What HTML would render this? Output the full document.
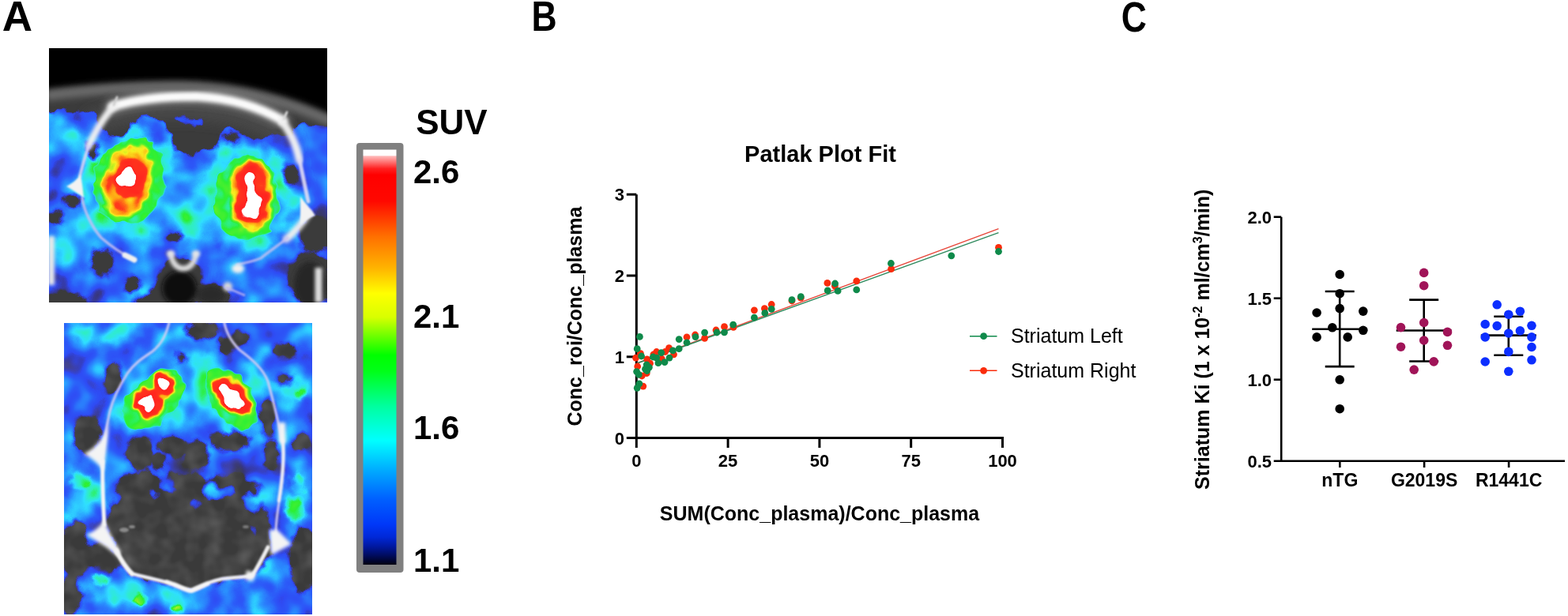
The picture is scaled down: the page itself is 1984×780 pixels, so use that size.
<!DOCTYPE html>
<html><head><meta charset="utf-8"><title>Figure</title>
<style>
html,body{margin:0;padding:0;background:#fff;width:1984px;height:780px;overflow:hidden}
svg{display:block}
text{font-family:"Liberation Sans", Arial, sans-serif}
</style></head><body>
<svg width="1984" height="780" viewBox="0 0 1984 780">
<defs>
<linearGradient id="cbg" x1="0" y1="0" x2="0" y2="1"><stop offset="0.0000" stop-color="#ffffff"/><stop offset="0.0133" stop-color="#ffffff"/><stop offset="0.0162" stop-color="#ffb8b8"/><stop offset="0.0305" stop-color="#ff7070"/><stop offset="0.0457" stop-color="#ff2020"/><stop offset="0.0610" stop-color="#ff0000"/><stop offset="0.1238" stop-color="#ff0800"/><stop offset="0.2095" stop-color="#ff7000"/><stop offset="0.2857" stop-color="#ffb400"/><stop offset="0.3467" stop-color="#ffff00"/><stop offset="0.4038" stop-color="#d8ff00"/><stop offset="0.4952" stop-color="#00ff00"/><stop offset="0.5333" stop-color="#00ff18"/><stop offset="0.6190" stop-color="#00ffa0"/><stop offset="0.7010" stop-color="#00ffff"/><stop offset="0.7752" stop-color="#00a8ff"/><stop offset="0.8419" stop-color="#0060ff"/><stop offset="0.9029" stop-color="#0038f8"/><stop offset="0.9333" stop-color="#0028d8"/><stop offset="0.9562" stop-color="#0018a0"/><stop offset="0.9771" stop-color="#000c60"/><stop offset="1.0000" stop-color="#000010"/></linearGradient>
</defs>
<rect width="1984" height="780" fill="#fff"/>

<svg x="62" y="61" width="352" height="322" viewBox="0 0 352 322" overflow="hidden">
<defs>
<filter id="Tb1" x="-20%" y="-20%" width="140%" height="140%"><feGaussianBlur stdDeviation="1.2"/></filter>
<filter id="Tb2" x="-20%" y="-20%" width="140%" height="140%"><feGaussianBlur stdDeviation="2.2"/></filter>
<filter id="Tb3" x="-20%" y="-20%" width="140%" height="140%"><feGaussianBlur stdDeviation="3.2"/></filter>
<filter id="Tb5" x="-30%" y="-30%" width="160%" height="160%"><feGaussianBlur stdDeviation="5"/></filter>
<filter id="Tb8" x="-40%" y="-40%" width="180%" height="180%"><feGaussianBlur stdDeviation="8"/></filter>
<filter id="Tb12" x="-50%" y="-50%" width="200%" height="200%"><feGaussianBlur stdDeviation="12"/></filter>
<filter id="Tctn" filterUnits="userSpaceOnUse" x="-20" y="-20" width="392" height="362" color-interpolation-filters="sRGB">
  <feTurbulence type="fractalNoise" baseFrequency="0.045" numOctaves="2" seed="20"/>
  <feColorMatrix type="matrix" values="0 0 0 0 1  0 0 0 0 1  0 0 0 0 1  0.3 0 0 0 -0.11"/>
</filter>
<filter id="Trough" x="-20%" y="-20%" width="140%" height="140%" color-interpolation-filters="sRGB">
  <feTurbulence type="fractalNoise" baseFrequency="0.07" numOctaves="2" seed="11" result="t"/>
  <feDisplacementMap in="SourceGraphic" in2="t" scale="13" xChannelSelector="R" yChannelSelector="G" result="d"/>
  <feGaussianBlur in="d" stdDeviation="1.6"/>
</filter>
<filter id="Tpet" filterUnits="userSpaceOnUse" x="-20" y="-20" width="392" height="362" color-interpolation-filters="sRGB">
  <feTurbulence type="fractalNoise" baseFrequency="0.03" numOctaves="2" seed="12" result="n"/>
  <feColorMatrix in="n" type="matrix" values="1 0 0 0 0  1 0 0 0 0  1 0 0 0 0  0 0 0 0 1" result="ng"/>
  <feGaussianBlur in="ng" stdDeviation="1.5" result="ngb"/>
  <feTurbulence type="fractalNoise" baseFrequency="0.08" numOctaves="2" seed="15" result="dn"/>
  <feDisplacementMap in="SourceGraphic" in2="dn" scale="11" xChannelSelector="R" yChannelSelector="G" result="src2"/>
  <feComposite in="src2" in2="ngb" operator="arithmetic" k1="0" k2="1" k3="0.4" k4="-0.200" result="f"/>
  <feComponentTransfer in="f" result="c">
    <feFuncR type="table" tableValues="0.165 0.166 0.167 0.169 0.170 0.171 0.173 0.174 0.175 0.176 0.178 0.179 0.180 0.182 0.183 0.184 0.186 0.187 0.188 0.190 0.191 0.192 0.193 0.195 0.196 0.197 0.199 0.200 0.201 0.203 0.204 0.201 0.198 0.195 0.191 0.188 0.185 0.182 0.179 0.176 0.173 0.172 0.171 0.170 0.169 0.168 0.167 0.166 0.165 0.168 0.171 0.175 0.178 0.182 0.185 0.188 0.188 0.188 0.188 0.188 0.188 0.188 0.185 0.182 0.179 0.176 0.173 0.217 0.261 0.306 0.350 0.395 0.439 0.546 0.653 0.759 0.866 0.973 0.979 0.986 0.993 1.000 1.000 1.000 1.000 1.000 1.000 1.000 1.000 1.000 1.000 1.000 1.000 1.000 1.000 1.000 1.000 1.000 1.000 1.000 1.000"/>
    <feFuncG type="table" tableValues="0.165 0.166 0.167 0.169 0.170 0.171 0.173 0.174 0.175 0.176 0.178 0.179 0.180 0.182 0.183 0.184 0.186 0.187 0.188 0.190 0.191 0.192 0.193 0.195 0.196 0.197 0.199 0.200 0.201 0.203 0.204 0.219 0.234 0.249 0.264 0.278 0.293 0.308 0.323 0.338 0.353 0.383 0.414 0.444 0.475 0.505 0.535 0.566 0.596 0.636 0.677 0.717 0.757 0.798 0.838 0.878 0.889 0.899 0.910 0.920 0.931 0.941 0.941 0.941 0.941 0.941 0.941 0.941 0.941 0.941 0.941 0.941 0.941 0.941 0.941 0.941 0.941 0.941 0.871 0.800 0.729 0.659 0.551 0.443 0.335 0.227 0.216 0.205 0.193 0.182 0.171 0.159 0.148 0.137 0.125 0.563 1.000 1.000 1.000 1.000 1.000"/>
    <feFuncB type="table" tableValues="0.847 0.850 0.853 0.856 0.859 0.861 0.864 0.867 0.870 0.873 0.876 0.879 0.882 0.884 0.887 0.890 0.893 0.896 0.899 0.902 0.905 0.907 0.910 0.913 0.916 0.919 0.922 0.925 0.928 0.930 0.933 0.937 0.941 0.945 0.949 0.953 0.957 0.961 0.965 0.969 0.973 0.976 0.979 0.983 0.986 0.990 0.993 0.997 1.000 1.000 1.000 1.000 1.000 1.000 1.000 1.000 0.954 0.907 0.861 0.814 0.768 0.722 0.618 0.515 0.411 0.307 0.204 0.196 0.188 0.180 0.173 0.165 0.157 0.151 0.144 0.138 0.132 0.125 0.114 0.102 0.090 0.078 0.086 0.094 0.102 0.110 0.112 0.113 0.115 0.117 0.119 0.120 0.122 0.124 0.125 0.563 1.000 1.000 1.000 1.000 1.000"/>
  </feComponentTransfer>
  <feColorMatrix in="f" type="matrix" values="0 0 0 0 0  0 0 0 0 0  0 0 0 0 0  10 0 0 0 -2.600" result="a"/>
  <feComposite in="c" in2="a" operator="in"/>
</filter>
<filter id="Tpet2" filterUnits="userSpaceOnUse" x="-20" y="-20" width="392" height="362" color-interpolation-filters="sRGB">
  <feTurbulence type="fractalNoise" baseFrequency="0.05" numOctaves="2" seed="16" result="n"/>
  <feColorMatrix in="n" type="matrix" values="1 0 0 0 0  1 0 0 0 0  1 0 0 0 0  0 0 0 0 1" result="ng"/>
  <feComposite in="SourceGraphic" in2="ng" operator="arithmetic" k1="0" k2="1" k3="0.14" k4="-0.07" result="f"/>
  <feComponentTransfer in="f" result="c">
    <feFuncR type="table" tableValues="0.165 0.166 0.167 0.169 0.170 0.171 0.173 0.174 0.175 0.176 0.178 0.179 0.180 0.182 0.183 0.184 0.186 0.187 0.188 0.190 0.191 0.192 0.193 0.195 0.196 0.197 0.199 0.200 0.201 0.203 0.204 0.201 0.198 0.195 0.191 0.188 0.185 0.182 0.179 0.176 0.173 0.172 0.171 0.170 0.169 0.168 0.167 0.166 0.165 0.168 0.171 0.175 0.178 0.182 0.185 0.188 0.188 0.188 0.188 0.188 0.188 0.188 0.185 0.182 0.179 0.176 0.173 0.217 0.261 0.306 0.350 0.395 0.439 0.546 0.653 0.759 0.866 0.973 0.979 0.986 0.993 1.000 1.000 1.000 1.000 1.000 1.000 1.000 1.000 1.000 1.000 1.000 1.000 1.000 1.000 1.000 1.000 1.000 1.000 1.000 1.000"/>
    <feFuncG type="table" tableValues="0.165 0.166 0.167 0.169 0.170 0.171 0.173 0.174 0.175 0.176 0.178 0.179 0.180 0.182 0.183 0.184 0.186 0.187 0.188 0.190 0.191 0.192 0.193 0.195 0.196 0.197 0.199 0.200 0.201 0.203 0.204 0.219 0.234 0.249 0.264 0.278 0.293 0.308 0.323 0.338 0.353 0.383 0.414 0.444 0.475 0.505 0.535 0.566 0.596 0.636 0.677 0.717 0.757 0.798 0.838 0.878 0.889 0.899 0.910 0.920 0.931 0.941 0.941 0.941 0.941 0.941 0.941 0.941 0.941 0.941 0.941 0.941 0.941 0.941 0.941 0.941 0.941 0.941 0.871 0.800 0.729 0.659 0.551 0.443 0.335 0.227 0.216 0.205 0.193 0.182 0.171 0.159 0.148 0.137 0.125 0.563 1.000 1.000 1.000 1.000 1.000"/>
    <feFuncB type="table" tableValues="0.847 0.850 0.853 0.856 0.859 0.861 0.864 0.867 0.870 0.873 0.876 0.879 0.882 0.884 0.887 0.890 0.893 0.896 0.899 0.902 0.905 0.907 0.910 0.913 0.916 0.919 0.922 0.925 0.928 0.930 0.933 0.937 0.941 0.945 0.949 0.953 0.957 0.961 0.965 0.969 0.973 0.976 0.979 0.983 0.986 0.990 0.993 0.997 1.000 1.000 1.000 1.000 1.000 1.000 1.000 1.000 0.954 0.907 0.861 0.814 0.768 0.722 0.618 0.515 0.411 0.307 0.204 0.196 0.188 0.180 0.173 0.165 0.157 0.151 0.144 0.138 0.132 0.125 0.114 0.102 0.090 0.078 0.086 0.094 0.102 0.110 0.112 0.113 0.115 0.117 0.119 0.120 0.122 0.124 0.125 0.563 1.000 1.000 1.000 1.000 1.000"/>
  </feComponentTransfer>
  <feColorMatrix in="f" type="matrix" values="0 0 0 0 0  0 0 0 0 0  0 0 0 0 0  5 0 0 0 -2.3" result="a"/>
  <feComposite in="c" in2="a" operator="in"/>
</filter>
</defs>
<rect width="352" height="322" fill="#000"/>
<path d="M-10,54 C60,46 120,42 176,43 C240,45 300,60 362,88 V332 H-10Z" fill="#3a3a3a" filter="url(#Tb3)"/>
<path d="M-5,60 C60,52 120,48 176,49 C240,51 300,66 360,94" stroke="#707070" stroke-width="12" fill="none" filter="url(#Tb5)"/>
<path d="M50,95 C100,78 150,76 176,78 C240,80 290,96 312,130" stroke="#4a4a4a" stroke-width="26" fill="none" filter="url(#Tb8)"/>
<g filter="url(#Tb3)"><ellipse cx="165" cy="304" rx="22" ry="22" fill="#0c0c0c" /><ellipse cx="205" cy="312" rx="18" ry="12" fill="#2a2a2a" /><ellipse cx="330" cy="300" rx="20" ry="30" fill="#262626" /></g>
<g filter="url(#Tpet)">
<rect x="-20" y="-20" width="392" height="362" fill="#000"/>
<g filter="url(#Tb2)">
<path d="M-20.0,78.0 C-16.7,34.0 -5.7,78.5 0.0,78.0 C5.7,77.5 9.0,75.2 14.0,75.0 C19.0,74.8 24.7,76.8 30.0,77.0 C35.3,77.2 41.3,75.5 46.0,76.0 C50.7,76.5 55.0,77.3 58.0,80.0 C61.0,82.7 62.0,88.0 64.0,92.0 C66.0,96.0 66.7,101.0 70.0,104.0 C73.3,107.0 79.3,110.0 84.0,110.0 C88.7,110.0 94.0,107.0 98.0,104.0 C102.0,101.0 104.7,95.3 108.0,92.0 C111.3,88.7 114.7,85.3 118.0,84.0 C121.3,82.7 124.3,82.7 128.0,84.0 C131.7,85.3 136.3,89.3 140.0,92.0 C143.7,94.7 147.3,97.0 150.0,100.0 C152.7,103.0 154.0,106.0 156.0,110.0 C158.0,114.0 160.0,120.3 162.0,124.0 C164.0,127.7 165.0,130.8 168.0,132.0 C171.0,133.2 176.0,131.7 180.0,131.0 C184.0,130.3 187.8,128.8 192.0,128.0 C196.2,127.2 201.8,127.0 205.0,126.0 C208.2,125.0 209.5,124.7 211.0,122.0 C212.5,119.3 213.2,113.3 214.0,110.0 C214.8,106.7 214.0,104.0 216.0,102.0 C218.0,100.0 222.3,98.0 226.0,98.0 C229.7,98.0 234.3,100.3 238.0,102.0 C241.7,103.7 244.7,106.3 248.0,108.0 C251.3,109.7 253.7,111.7 258.0,112.0 C262.3,112.3 268.7,111.0 274.0,110.0 C279.3,109.0 285.0,106.7 290.0,106.0 C295.0,105.3 299.7,107.7 304.0,106.0 C308.3,104.3 311.3,98.2 316.0,96.0 C320.7,93.8 326.0,93.0 332.0,93.0 C338.0,93.0 345.3,95.5 352.0,96.0 C358.7,96.5 368.7,55.0 372.0,96.0 C375.3,137.0 437.3,301.0 372.0,342.0 C306.7,383.0 45.3,386.0 -20.0,342.0 C-85.3,298.0 -23.3,122.0 -20.0,78.0Z" fill="#666666"/>
<path d="M158.0,88.0 C159.7,85.8 168.8,86.0 175.0,86.0 C181.2,86.0 190.8,86.5 195.0,88.0 C199.2,89.5 201.7,93.0 200.0,95.0 C198.3,97.0 190.8,99.3 185.0,100.0 C179.2,100.7 169.5,101.0 165.0,99.0 C160.5,97.0 156.3,90.2 158.0,88.0Z" fill="#5c5c5c"/>
</g>
<g filter="url(#Tb12)">
<ellipse cx="12" cy="112" rx="22" ry="34" fill="#8a8a8a" />
<ellipse cx="30" cy="250" rx="30" ry="40" fill="#858585" />
<ellipse cx="176" cy="200" rx="40" ry="44" fill="#858585" />
<ellipse cx="100" cy="172" rx="70" ry="82" fill="#858585" />
<ellipse cx="252" cy="190" rx="62" ry="80" fill="#858585" />
<ellipse cx="120" cy="300" rx="30" ry="16" fill="#757575" />
<ellipse cx="255" cy="290" rx="30" ry="20" fill="#787878" />
<ellipse cx="60" cy="240" rx="30" ry="30" fill="#808080" />
</g>
<g filter="url(#Tb5)">
<path d="M116.0,100.0 C123.7,101.0 133.7,104.3 140.0,110.0 C146.3,115.7 151.0,124.7 154.0,134.0 C157.0,143.3 158.3,155.0 158.0,166.0 C157.7,177.0 155.3,190.3 152.0,200.0 C148.7,209.7 144.7,218.0 138.0,224.0 C131.3,230.0 120.7,234.3 112.0,236.0 C103.3,237.7 94.3,236.3 86.0,234.0 C77.7,231.7 68.7,227.7 62.0,222.0 C55.3,216.3 49.3,208.7 46.0,200.0 C42.7,191.3 41.3,180.0 42.0,170.0 C42.7,160.0 45.3,149.0 50.0,140.0 C54.7,131.0 62.7,122.0 70.0,116.0 C77.3,110.0 86.3,106.7 94.0,104.0 C101.7,101.3 108.3,99.0 116.0,100.0Z" fill="#8f8f8f"/>
<path d="M255.0,124.0 C263.7,124.0 273.2,125.3 280.0,130.0 C286.8,134.7 292.7,142.7 296.0,152.0 C299.3,161.3 299.7,175.0 300.0,186.0 C300.3,197.0 300.0,209.0 298.0,218.0 C296.0,227.0 294.3,234.0 288.0,240.0 C281.7,246.0 269.3,252.0 260.0,254.0 C250.7,256.0 240.0,254.7 232.0,252.0 C224.0,249.3 217.3,244.7 212.0,238.0 C206.7,231.3 202.3,221.7 200.0,212.0 C197.7,202.3 197.3,190.3 198.0,180.0 C198.7,169.7 199.0,158.3 204.0,150.0 C209.0,141.7 219.5,134.3 228.0,130.0 C236.5,125.7 246.3,124.0 255.0,124.0Z" fill="#8f8f8f"/>
<ellipse cx="176" cy="215" rx="16" ry="22" fill="#8c8c8c" />
</g>
<g filter="url(#Tb8)"><ellipse cx="140" cy="104" rx="16" ry="14" fill="#5e5e5e" /><ellipse cx="300" cy="118" rx="14" ry="12" fill="#5e5e5e" /><ellipse cx="60" cy="96" rx="14" ry="10" fill="#616161" /></g>
<path d="M-20.0,78.0 C-16.7,78.0 -5.7,78.5 0.0,78.0 C5.7,77.5 9.0,75.2 14.0,75.0 C19.0,74.8 24.7,76.8 30.0,77.0 C35.3,77.2 41.3,75.5 46.0,76.0 C50.7,76.5 55.0,77.3 58.0,80.0 C61.0,82.7 62.0,88.0 64.0,92.0 C66.0,96.0 66.7,101.0 70.0,104.0 C73.3,107.0 79.3,110.0 84.0,110.0 C88.7,110.0 94.0,107.0 98.0,104.0 C102.0,101.0 104.7,95.3 108.0,92.0 C111.3,88.7 114.7,85.3 118.0,84.0 C121.3,82.7 124.3,82.7 128.0,84.0 C131.7,85.3 136.3,89.3 140.0,92.0 C143.7,94.7 147.3,97.0 150.0,100.0 C152.7,103.0 154.0,106.0 156.0,110.0 C158.0,114.0 160.0,120.3 162.0,124.0 C164.0,127.7 165.0,130.8 168.0,132.0 C171.0,133.2 176.0,131.7 180.0,131.0 C184.0,130.3 187.8,128.8 192.0,128.0 C196.2,127.2 201.8,127.0 205.0,126.0 C208.2,125.0 209.5,124.7 211.0,122.0 C212.5,119.3 213.2,113.3 214.0,110.0 C214.8,106.7 214.0,104.0 216.0,102.0 C218.0,100.0 222.3,98.0 226.0,98.0 C229.7,98.0 234.3,100.3 238.0,102.0 C241.7,103.7 244.7,106.3 248.0,108.0 C251.3,109.7 253.7,111.7 258.0,112.0 C262.3,112.3 268.7,111.0 274.0,110.0 C279.3,109.0 285.0,106.7 290.0,106.0 C295.0,105.3 299.7,107.7 304.0,106.0 C308.3,104.3 311.3,98.2 316.0,96.0 C320.7,93.8 326.0,93.0 332.0,93.0 C338.0,93.0 345.3,95.5 352.0,96.0 C358.7,96.5 368.7,96.0 372.0,96.0 L372,-20 L-20,-20 Z" fill="#000" filter="url(#Tb2)"/>
<path d="M158.0,88.0 C158.3,85.8 165.0,84.2 168.0,84.0 C171.0,83.8 172.3,86.3 176.0,87.0 C179.7,87.7 186.2,87.2 190.0,88.0 C193.8,88.8 198.3,90.3 199.0,92.0 C199.7,93.7 196.5,96.5 194.0,98.0 C191.5,99.5 187.0,101.0 184.0,101.0 C181.0,101.0 179.0,98.7 176.0,98.0 C173.0,97.3 169.0,98.7 166.0,97.0 C163.0,95.3 157.7,90.2 158.0,88.0Z" fill="#575757" filter="url(#Tb2)"/>
<g filter="url(#Tb3)">
<ellipse cx="56" cy="130" rx="6" ry="11" fill="#0d0d0d" />
<ellipse cx="6" cy="213" rx="9" ry="7" fill="#0d0d0d" />
<ellipse cx="29" cy="192" rx="10" ry="7" fill="#0d0d0d" />
<ellipse cx="67" cy="272" rx="11" ry="16" fill="#0d0d0d" />
<ellipse cx="231" cy="114" rx="8" ry="6" fill="#0d0d0d" />
<ellipse cx="305" cy="160" rx="7" ry="12" fill="#0d0d0d" />
<ellipse cx="166" cy="298" rx="26" ry="30" fill="#0d0d0d" />
<ellipse cx="170" cy="276" rx="14" ry="10" fill="#0d0d0d" />
<ellipse cx="206" cy="314" rx="20" ry="13" fill="#0d0d0d" />
<ellipse cx="140" cy="312" rx="10" ry="12" fill="#0d0d0d" />
<ellipse cx="335" cy="236" rx="18" ry="20" fill="#0d0d0d" />
<ellipse cx="330" cy="292" rx="24" ry="32" fill="#0d0d0d" />
<ellipse cx="22" cy="320" rx="26" ry="7" fill="#0d0d0d" />
<ellipse cx="160" cy="240" rx="8" ry="4" fill="#0d0d0d" />
<ellipse cx="122" cy="320" rx="14" ry="6" fill="#0d0d0d" />
<ellipse cx="106" cy="300" rx="8" ry="8" fill="#0d0d0d" />
</g>
</g>
<g filter="url(#Tpet2)"><rect width="352" height="322" fill="#000"/>
<g filter="url(#Trough)">
<path d="M118.0,112.0 C124.3,113.3 131.2,116.0 136.0,122.0 C140.8,128.0 145.3,138.7 147.0,148.0 C148.7,157.3 147.7,168.7 146.0,178.0 C144.3,187.3 142.3,196.7 137.0,204.0 C131.7,211.3 121.8,218.7 114.0,222.0 C106.2,225.3 97.3,225.3 90.0,224.0 C82.7,222.7 75.3,218.7 70.0,214.0 C64.7,209.3 60.7,203.3 58.0,196.0 C55.3,188.7 53.7,178.7 54.0,170.0 C54.3,161.3 56.3,151.3 60.0,144.0 C63.7,136.7 69.7,131.0 76.0,126.0 C82.3,121.0 91.0,116.3 98.0,114.0 C105.0,111.7 111.7,110.7 118.0,112.0Z" fill="#a8a8a8"/>
<path d="M110.0,123.0 C115.3,123.5 121.5,125.5 125.0,130.0 C128.5,134.5 130.2,142.5 131.0,150.0 C131.8,157.5 131.5,167.0 130.0,175.0 C128.5,183.0 126.0,191.8 122.0,198.0 C118.0,204.2 111.7,209.3 106.0,212.0 C100.3,214.7 93.3,215.2 88.0,214.0 C82.7,212.8 77.5,209.3 74.0,205.0 C70.5,200.7 67.8,194.7 67.0,188.0 C66.2,181.3 67.3,172.7 69.0,165.0 C70.7,157.3 73.0,148.3 77.0,142.0 C81.0,135.7 87.5,130.2 93.0,127.0 C98.5,123.8 104.7,122.5 110.0,123.0Z" fill="#c7c7c7"/>
<path d="M108.0,132.0 C112.3,132.8 118.0,135.7 121.0,140.0 C124.0,144.3 125.7,151.3 126.0,158.0 C126.3,164.7 125.3,173.0 123.0,180.0 C120.7,187.0 116.5,195.3 112.0,200.0 C107.5,204.7 101.0,207.7 96.0,208.0 C91.0,208.3 85.7,205.3 82.0,202.0 C78.3,198.7 75.2,194.0 74.0,188.0 C72.8,182.0 73.5,173.0 75.0,166.0 C76.5,159.0 79.7,151.2 83.0,146.0 C86.3,140.8 90.8,137.3 95.0,135.0 C99.2,132.7 103.7,131.2 108.0,132.0Z" fill="#d1d1d1"/>
<path d="M106.0,140.0 C109.8,140.8 116.2,143.3 119.0,147.0 C121.8,150.7 122.8,156.8 123.0,162.0 C123.2,167.2 122.0,173.8 120.0,178.0 C118.0,182.2 115.0,185.0 111.0,187.0 C107.0,189.0 100.2,190.8 96.0,190.0 C91.8,189.2 88.2,186.0 86.0,182.0 C83.8,178.0 82.7,171.3 83.0,166.0 C83.3,160.7 85.8,154.0 88.0,150.0 C90.2,146.0 93.0,143.7 96.0,142.0 C99.0,140.3 102.2,139.2 106.0,140.0Z" fill="#e6e6e6"/>
<path d="M98.0,154.0 C101.5,152.0 105.5,151.2 108.0,152.0 C110.5,152.8 112.7,156.2 113.0,159.0 C113.3,161.8 112.3,166.3 110.0,169.0 C107.7,171.7 102.7,174.3 99.0,175.0 C95.3,175.7 90.0,174.8 88.0,173.0 C86.0,171.2 85.3,167.2 87.0,164.0 C88.7,160.8 94.5,156.0 98.0,154.0Z" fill="#ffffff"/>
<path d="M255.0,134.0 C262.0,134.0 268.5,136.0 274.0,140.0 C279.5,144.0 285.2,150.3 288.0,158.0 C290.8,165.7 290.8,176.7 291.0,186.0 C291.2,195.3 291.0,206.2 289.0,214.0 C287.0,221.8 284.2,228.0 279.0,233.0 C273.8,238.0 265.2,242.5 258.0,244.0 C250.8,245.5 242.5,244.3 236.0,242.0 C229.5,239.7 223.3,235.7 219.0,230.0 C214.7,224.3 211.8,216.3 210.0,208.0 C208.2,199.7 207.3,188.7 208.0,180.0 C208.7,171.3 210.0,162.7 214.0,156.0 C218.0,149.3 225.2,143.7 232.0,140.0 C238.8,136.3 248.0,134.0 255.0,134.0Z" fill="#a8a8a8"/>
<path d="M256.0,141.0 C262.2,139.7 267.8,143.0 272.0,147.0 C276.2,151.0 279.2,157.8 281.0,165.0 C282.8,172.2 283.2,181.8 283.0,190.0 C282.8,198.2 282.3,207.8 280.0,214.0 C277.7,220.2 273.3,224.2 269.0,227.0 C264.7,229.8 259.0,231.3 254.0,231.0 C249.0,230.7 242.8,229.2 239.0,225.0 C235.2,220.8 232.5,214.2 231.0,206.0 C229.5,197.8 229.3,184.5 230.0,176.0 C230.7,167.5 230.7,160.8 235.0,155.0 C239.3,149.2 249.8,142.3 256.0,141.0Z" fill="#c7c7c7"/>
<path d="M256.0,145.0 C260.5,145.0 266.5,147.0 270.0,151.0 C273.5,155.0 275.7,162.2 277.0,169.0 C278.3,175.8 278.3,184.7 278.0,192.0 C277.7,199.3 277.3,207.7 275.0,213.0 C272.7,218.3 268.3,222.2 264.0,224.0 C259.7,225.8 253.3,225.5 249.0,224.0 C244.7,222.5 240.5,220.3 238.0,215.0 C235.5,209.7 234.3,200.2 234.0,192.0 C233.7,183.8 234.5,172.8 236.0,166.0 C237.5,159.2 239.7,154.5 243.0,151.0 C246.3,147.5 251.5,145.0 256.0,145.0Z" fill="#d1d1d1"/>
<path d="M256.0,149.0 C259.5,149.3 265.0,151.3 268.0,155.0 C271.0,158.7 272.8,164.5 274.0,171.0 C275.2,177.5 275.5,187.0 275.0,194.0 C274.5,201.0 273.2,208.5 271.0,213.0 C268.8,217.5 266.0,219.7 262.0,221.0 C258.0,222.3 250.7,222.8 247.0,221.0 C243.3,219.2 241.5,215.5 240.0,210.0 C238.5,204.5 238.0,195.3 238.0,188.0 C238.0,180.7 238.5,171.8 240.0,166.0 C241.5,160.2 244.3,155.8 247.0,153.0 C249.7,150.2 252.5,148.7 256.0,149.0Z" fill="#e6e6e6"/>
<path d="M250.0,158.0 C251.8,156.7 256.3,157.7 258.0,160.0 C259.7,162.3 259.0,168.0 260.0,172.0 C261.0,176.0 262.8,180.0 264.0,184.0 C265.2,188.0 266.7,191.7 267.0,196.0 C267.3,200.3 267.8,207.0 266.0,210.0 C264.2,213.0 259.0,214.3 256.0,214.0 C253.0,213.7 249.0,211.7 248.0,208.0 C247.0,204.3 249.3,197.0 250.0,192.0 C250.7,187.0 252.5,182.0 252.0,178.0 C251.5,174.0 247.3,171.3 247.0,168.0 C246.7,164.7 248.2,159.3 250.0,158.0Z" fill="#ffffff"/>
</g>
</g>
<g fill="none" stroke-linecap="round" filter="url(#Tb1)">
<path d="M80,74 C110,64 150,61 186,61 C225,63 262,72 296,92" stroke="#9a9a9a" stroke-width="20" opacity="0.55" filter="url(#Tb5)"/>
<path d="M80,74 C110,64 150,61 186,61 C225,63 262,72 296,92" stroke="#f4f4f4" stroke-width="12" filter="url(#Tb2)"/>
<path d="M80,74 C110,64 150,61 186,61 C225,63 262,72 296,92" stroke="#fafafa" stroke-width="6"/>
<path d="M84,71 C74,82 64,96 57,110 C54,116 52,120 50,124" stroke="#f0f0f0" stroke-width="9" filter="url(#Tb2)"/>
<path d="M50,124 C46,136 42,150 39,162" stroke="#d8d2f4" stroke-width="4" opacity="0.9"/>
<path d="M294,92 C302,102 308,112 312,124 C315,132 316,138 317,142" stroke="#f0f0f0" stroke-width="10" filter="url(#Tb2)"/>
<path d="M317,142 C321,160 324,176 328,194" stroke="#e0dcf4" stroke-width="5" opacity="0.9"/>
<path d="M328,210 C320,222 312,232 300,242" stroke="#efefef" stroke-width="9" filter="url(#Tb2)"/>
<path d="M302,240 C290,250 280,256 268,266 C258,270 248,272 238,274" stroke="#c8c0f0" stroke-width="3.5" opacity="0.8"/>
<path d="M42,190 C44,205 54,226 66,240 C80,252 92,260 104,266" stroke="#c8c0f0" stroke-width="3.5" opacity="0.85"/>
<path d="M96,262 L108,268" stroke="#f0f0f0" stroke-width="7"/>
<path d="M82,72 L86,62" stroke="#cfcfcf" stroke-width="3"/><path d="M297,90 L301,81" stroke="#d8d8d8" stroke-width="3"/>
</g>
<g filter="url(#Tb1)" fill="#f2f2f2">
<path d="M40,160 C34,168 28,172 22,175 C30,180 38,184 44,190 C43,180 42,170 40,160Z"/>
<path d="M318,188 C324,196 332,204 337,212 C330,214 324,218 318,224 C318,212 318,200 318,188 Z"/>
</g>
<g filter="url(#Tb2)" fill="none" stroke="#e0e0e0"><path d="M154,259 C155,272 162,279 170,279 C178,279 185,272 186,259" stroke-width="7"/><path d="M341,278 V322" stroke-width="9"/><path d="M3,238 V300" stroke-width="8" stroke="#e8e8e8"/></g>
<g filter="url(#Tb2)" fill="#ececec"><ellipse cx="239" cy="279" rx="8" ry="6" fill="#f0f0f0" /><ellipse cx="226" cy="302" rx="6" ry="6" fill="#d8d8d8" /><ellipse cx="154" cy="260" rx="5" ry="4" fill="#e8e8e8" /><ellipse cx="186" cy="260" rx="5" ry="4" fill="#e8e8e8" /></g>
<path d="M224,303 C232,306 240,310 248,313" stroke="#c0b8f0" stroke-width="3" fill="none" filter="url(#Tb1)" opacity="0.8"/>
</svg>
<svg x="81" y="409" width="314" height="369" viewBox="0 0 314 369" overflow="hidden">
<defs>
<filter id="Ub1" x="-20%" y="-20%" width="140%" height="140%"><feGaussianBlur stdDeviation="1.2"/></filter>
<filter id="Ub2" x="-20%" y="-20%" width="140%" height="140%"><feGaussianBlur stdDeviation="2.2"/></filter>
<filter id="Ub3" x="-20%" y="-20%" width="140%" height="140%"><feGaussianBlur stdDeviation="3.2"/></filter>
<filter id="Ub5" x="-30%" y="-30%" width="160%" height="160%"><feGaussianBlur stdDeviation="5"/></filter>
<filter id="Ub8" x="-40%" y="-40%" width="180%" height="180%"><feGaussianBlur stdDeviation="8"/></filter>
<filter id="Ub12" x="-50%" y="-50%" width="200%" height="200%"><feGaussianBlur stdDeviation="12"/></filter>
<filter id="Uctn" filterUnits="userSpaceOnUse" x="-20" y="-20" width="354" height="409" color-interpolation-filters="sRGB">
  <feTurbulence type="fractalNoise" baseFrequency="0.045" numOctaves="2" seed="32"/>
  <feColorMatrix type="matrix" values="0 0 0 0 1  0 0 0 0 1  0 0 0 0 1  0.3 0 0 0 -0.11"/>
</filter>
<filter id="Urough" x="-20%" y="-20%" width="140%" height="140%" color-interpolation-filters="sRGB">
  <feTurbulence type="fractalNoise" baseFrequency="0.07" numOctaves="2" seed="23" result="t"/>
  <feDisplacementMap in="SourceGraphic" in2="t" scale="13" xChannelSelector="R" yChannelSelector="G" result="d"/>
  <feGaussianBlur in="d" stdDeviation="1.6"/>
</filter>
<filter id="Upet" filterUnits="userSpaceOnUse" x="-20" y="-20" width="354" height="409" color-interpolation-filters="sRGB">
  <feTurbulence type="fractalNoise" baseFrequency="0.03" numOctaves="2" seed="24" result="n"/>
  <feColorMatrix in="n" type="matrix" values="1 0 0 0 0  1 0 0 0 0  1 0 0 0 0  0 0 0 0 1" result="ng"/>
  <feGaussianBlur in="ng" stdDeviation="1.5" result="ngb"/>
  <feTurbulence type="fractalNoise" baseFrequency="0.08" numOctaves="2" seed="27" result="dn"/>
  <feDisplacementMap in="SourceGraphic" in2="dn" scale="11" xChannelSelector="R" yChannelSelector="G" result="src2"/>
  <feComposite in="src2" in2="ngb" operator="arithmetic" k1="0" k2="1" k3="0.42" k4="-0.210" result="f"/>
  <feComponentTransfer in="f" result="c">
    <feFuncR type="table" tableValues="0.165 0.166 0.167 0.169 0.170 0.171 0.173 0.174 0.175 0.176 0.178 0.179 0.180 0.182 0.183 0.184 0.186 0.187 0.188 0.190 0.191 0.192 0.193 0.195 0.196 0.197 0.199 0.200 0.201 0.203 0.204 0.201 0.198 0.195 0.191 0.188 0.185 0.182 0.179 0.176 0.173 0.172 0.171 0.170 0.169 0.168 0.167 0.166 0.165 0.168 0.171 0.175 0.178 0.182 0.185 0.188 0.188 0.188 0.188 0.188 0.188 0.188 0.185 0.182 0.179 0.176 0.173 0.217 0.261 0.306 0.350 0.395 0.439 0.546 0.653 0.759 0.866 0.973 0.979 0.986 0.993 1.000 1.000 1.000 1.000 1.000 1.000 1.000 1.000 1.000 1.000 1.000 1.000 1.000 1.000 1.000 1.000 1.000 1.000 1.000 1.000"/>
    <feFuncG type="table" tableValues="0.165 0.166 0.167 0.169 0.170 0.171 0.173 0.174 0.175 0.176 0.178 0.179 0.180 0.182 0.183 0.184 0.186 0.187 0.188 0.190 0.191 0.192 0.193 0.195 0.196 0.197 0.199 0.200 0.201 0.203 0.204 0.219 0.234 0.249 0.264 0.278 0.293 0.308 0.323 0.338 0.353 0.383 0.414 0.444 0.475 0.505 0.535 0.566 0.596 0.636 0.677 0.717 0.757 0.798 0.838 0.878 0.889 0.899 0.910 0.920 0.931 0.941 0.941 0.941 0.941 0.941 0.941 0.941 0.941 0.941 0.941 0.941 0.941 0.941 0.941 0.941 0.941 0.941 0.871 0.800 0.729 0.659 0.551 0.443 0.335 0.227 0.216 0.205 0.193 0.182 0.171 0.159 0.148 0.137 0.125 0.563 1.000 1.000 1.000 1.000 1.000"/>
    <feFuncB type="table" tableValues="0.847 0.850 0.853 0.856 0.859 0.861 0.864 0.867 0.870 0.873 0.876 0.879 0.882 0.884 0.887 0.890 0.893 0.896 0.899 0.902 0.905 0.907 0.910 0.913 0.916 0.919 0.922 0.925 0.928 0.930 0.933 0.937 0.941 0.945 0.949 0.953 0.957 0.961 0.965 0.969 0.973 0.976 0.979 0.983 0.986 0.990 0.993 0.997 1.000 1.000 1.000 1.000 1.000 1.000 1.000 1.000 0.954 0.907 0.861 0.814 0.768 0.722 0.618 0.515 0.411 0.307 0.204 0.196 0.188 0.180 0.173 0.165 0.157 0.151 0.144 0.138 0.132 0.125 0.114 0.102 0.090 0.078 0.086 0.094 0.102 0.110 0.112 0.113 0.115 0.117 0.119 0.120 0.122 0.124 0.125 0.563 1.000 1.000 1.000 1.000 1.000"/>
  </feComponentTransfer>
  <feColorMatrix in="f" type="matrix" values="0 0 0 0 0  0 0 0 0 0  0 0 0 0 0  10 0 0 0 -2.600" result="a"/>
  <feComposite in="c" in2="a" operator="in"/>
</filter>
<filter id="Upet2" filterUnits="userSpaceOnUse" x="-20" y="-20" width="354" height="409" color-interpolation-filters="sRGB">
  <feTurbulence type="fractalNoise" baseFrequency="0.05" numOctaves="2" seed="28" result="n"/>
  <feColorMatrix in="n" type="matrix" values="1 0 0 0 0  1 0 0 0 0  1 0 0 0 0  0 0 0 0 1" result="ng"/>
  <feComposite in="SourceGraphic" in2="ng" operator="arithmetic" k1="0" k2="1" k3="0.14" k4="-0.07" result="f"/>
  <feComponentTransfer in="f" result="c">
    <feFuncR type="table" tableValues="0.165 0.166 0.167 0.169 0.170 0.171 0.173 0.174 0.175 0.176 0.178 0.179 0.180 0.182 0.183 0.184 0.186 0.187 0.188 0.190 0.191 0.192 0.193 0.195 0.196 0.197 0.199 0.200 0.201 0.203 0.204 0.201 0.198 0.195 0.191 0.188 0.185 0.182 0.179 0.176 0.173 0.172 0.171 0.170 0.169 0.168 0.167 0.166 0.165 0.168 0.171 0.175 0.178 0.182 0.185 0.188 0.188 0.188 0.188 0.188 0.188 0.188 0.185 0.182 0.179 0.176 0.173 0.217 0.261 0.306 0.350 0.395 0.439 0.546 0.653 0.759 0.866 0.973 0.979 0.986 0.993 1.000 1.000 1.000 1.000 1.000 1.000 1.000 1.000 1.000 1.000 1.000 1.000 1.000 1.000 1.000 1.000 1.000 1.000 1.000 1.000"/>
    <feFuncG type="table" tableValues="0.165 0.166 0.167 0.169 0.170 0.171 0.173 0.174 0.175 0.176 0.178 0.179 0.180 0.182 0.183 0.184 0.186 0.187 0.188 0.190 0.191 0.192 0.193 0.195 0.196 0.197 0.199 0.200 0.201 0.203 0.204 0.219 0.234 0.249 0.264 0.278 0.293 0.308 0.323 0.338 0.353 0.383 0.414 0.444 0.475 0.505 0.535 0.566 0.596 0.636 0.677 0.717 0.757 0.798 0.838 0.878 0.889 0.899 0.910 0.920 0.931 0.941 0.941 0.941 0.941 0.941 0.941 0.941 0.941 0.941 0.941 0.941 0.941 0.941 0.941 0.941 0.941 0.941 0.871 0.800 0.729 0.659 0.551 0.443 0.335 0.227 0.216 0.205 0.193 0.182 0.171 0.159 0.148 0.137 0.125 0.563 1.000 1.000 1.000 1.000 1.000"/>
    <feFuncB type="table" tableValues="0.847 0.850 0.853 0.856 0.859 0.861 0.864 0.867 0.870 0.873 0.876 0.879 0.882 0.884 0.887 0.890 0.893 0.896 0.899 0.902 0.905 0.907 0.910 0.913 0.916 0.919 0.922 0.925 0.928 0.930 0.933 0.937 0.941 0.945 0.949 0.953 0.957 0.961 0.965 0.969 0.973 0.976 0.979 0.983 0.986 0.990 0.993 0.997 1.000 1.000 1.000 1.000 1.000 1.000 1.000 1.000 0.954 0.907 0.861 0.814 0.768 0.722 0.618 0.515 0.411 0.307 0.204 0.196 0.188 0.180 0.173 0.165 0.157 0.151 0.144 0.138 0.132 0.125 0.114 0.102 0.090 0.078 0.086 0.094 0.102 0.110 0.112 0.113 0.115 0.117 0.119 0.120 0.122 0.124 0.125 0.563 1.000 1.000 1.000 1.000 1.000"/>
  </feComponentTransfer>
  <feColorMatrix in="f" type="matrix" values="0 0 0 0 0  0 0 0 0 0  0 0 0 0 0  5 0 0 0 -2.3" result="a"/>
  <feComposite in="c" in2="a" operator="in"/>
</filter>
</defs>
<rect width="314" height="369" fill="#3a3a3a"/>
<rect width="314" height="369" fill="#fff" filter="url(#Uctn)"/>
<g filter="url(#Upet)">
<rect x="-20" y="-20" width="354" height="409" fill="#696969"/>
<g filter="url(#Ub8)">
<ellipse cx="112" cy="95" rx="58" ry="50" fill="#828282" />
<ellipse cx="212" cy="95" rx="54" ry="52" fill="#828282" />
<ellipse cx="60" cy="12" rx="60" ry="14" fill="#8a8a8a" />
<ellipse cx="175" cy="70" rx="20" ry="40" fill="#8a8a8a" />
<ellipse cx="300" cy="65" rx="14" ry="20" fill="#878787" />
<ellipse cx="22" cy="215" rx="24" ry="44" fill="#878787" />
<ellipse cx="297" cy="225" rx="18" ry="36" fill="#8a8a8a" />
<ellipse cx="70" cy="335" rx="50" ry="22" fill="#858585" />
<ellipse cx="200" cy="350" rx="60" ry="16" fill="#808080" />
<ellipse cx="290" cy="120" rx="20" ry="30" fill="#757575" />
<ellipse cx="120" cy="345" rx="30" ry="14" fill="#858585" />
<ellipse cx="250" cy="300" rx="25" ry="20" fill="#787878" />
<ellipse cx="150" cy="20" rx="30" ry="12" fill="#787878" />
</g>
<g filter="url(#Ub3)">
<path d="M60.0,222.0 C61.3,212.7 66.0,210.3 70.0,206.0 C74.0,201.7 79.3,196.7 84.0,196.0 C88.7,195.3 93.7,202.3 98.0,202.0 C102.3,201.7 106.0,194.3 110.0,194.0 C114.0,193.7 117.7,200.3 122.0,200.0 C126.3,199.7 131.3,192.3 136.0,192.0 C140.7,191.7 145.3,198.0 150.0,198.0 C154.7,198.0 159.3,191.7 164.0,192.0 C168.7,192.3 173.7,199.7 178.0,200.0 C182.3,200.3 185.7,194.0 190.0,194.0 C194.3,194.0 199.0,199.7 204.0,200.0 C209.0,200.3 215.0,195.0 220.0,196.0 C225.0,197.0 229.7,201.3 234.0,206.0 C238.3,210.7 242.3,216.7 246.0,224.0 C249.7,231.3 253.7,239.7 256.0,250.0 C258.3,260.3 261.0,276.7 260.0,286.0 C259.0,295.3 254.0,300.3 250.0,306.0 C246.0,311.7 244.3,317.0 236.0,320.0 C227.7,323.0 212.3,321.7 200.0,324.0 C187.7,326.3 174.3,333.7 162.0,334.0 C149.7,334.3 137.7,328.7 126.0,326.0 C114.3,323.3 101.0,322.3 92.0,318.0 C83.0,313.7 77.0,309.3 72.0,300.0 C67.0,290.7 64.0,275.0 62.0,262.0 C60.0,249.0 58.7,231.3 60.0,222.0Z" fill="#0f0f0f"/>
<ellipse cx="138" cy="206" rx="16" ry="9" fill="#6b6b6b" />
<ellipse cx="196" cy="212" rx="22" ry="10" fill="#6b6b6b" />
<ellipse cx="66" cy="212" rx="8" ry="16" fill="#6b6b6b" />
<ellipse cx="236" cy="228" rx="10" ry="14" fill="#707070" />
<ellipse cx="165" cy="228" rx="8" ry="6" fill="#666666" />
<ellipse cx="112" cy="215" rx="6" ry="5" fill="#666666" />
<ellipse cx="240" cy="262" rx="5" ry="10" fill="#666666" />
<ellipse cx="62" cy="70" rx="8" ry="18" fill="#0f0f0f" />
<ellipse cx="95" cy="166" rx="14" ry="18" fill="#0f0f0f" />
<ellipse cx="138" cy="156" rx="18" ry="9" fill="#0f0f0f" />
<ellipse cx="169" cy="168" rx="12" ry="16" fill="#0f0f0f" />
<ellipse cx="210" cy="150" rx="24" ry="10" fill="#0f0f0f" />
<ellipse cx="258" cy="120" rx="6" ry="24" fill="#0f0f0f" />
<ellipse cx="262" cy="165" rx="7" ry="18" fill="#0f0f0f" />
<ellipse cx="30" cy="142" rx="16" ry="20" fill="#0f0f0f" />
<ellipse cx="14" cy="285" rx="16" ry="34" fill="#0f0f0f" />
<ellipse cx="8" cy="345" rx="11" ry="25" fill="#0f0f0f" />
<ellipse cx="302" cy="300" rx="14" ry="40" fill="#0f0f0f" />
<ellipse cx="174" cy="8" rx="18" ry="10" fill="#0f0f0f" />
<ellipse cx="204" cy="28" rx="7" ry="10" fill="#0f0f0f" />
<ellipse cx="223" cy="20" rx="7" ry="6" fill="#0f0f0f" />
<ellipse cx="280" cy="34" rx="14" ry="6" fill="#0f0f0f" />
<ellipse cx="278" cy="72" rx="7" ry="6" fill="#0f0f0f" />
<ellipse cx="148" cy="44" rx="5" ry="5" fill="#0f0f0f" />
<ellipse cx="300" cy="150" rx="8" ry="8" fill="#0f0f0f" />
<ellipse cx="120" cy="176" rx="6" ry="8" fill="#0f0f0f" />
<ellipse cx="82" cy="210" rx="14" ry="16" fill="#0f0f0f" />
<ellipse cx="100" cy="195" rx="8" ry="8" fill="#0f0f0f" />
<ellipse cx="150" cy="205" rx="10" ry="7" fill="#0f0f0f" />
<ellipse cx="200" cy="205" rx="8" ry="6" fill="#0f0f0f" />
<ellipse cx="240" cy="210" rx="6" ry="8" fill="#0f0f0f" />
<ellipse cx="75" cy="246" rx="10" ry="12" fill="#0f0f0f" />
<ellipse cx="36" cy="292" rx="22" ry="12" fill="#0f0f0f" />
<ellipse cx="60" cy="302" rx="10" ry="8" fill="#0f0f0f" />
</g>
<g filter="url(#Ub2)">
<ellipse cx="20" cy="200" rx="12" ry="9" fill="#a3a3a3" />
<ellipse cx="292" cy="236" rx="11" ry="16" fill="#a1a1a1" />
<ellipse cx="48" cy="324" rx="11" ry="6" fill="#adadad" />
<ellipse cx="97" cy="351" rx="8" ry="6" fill="#a8a8a8" />
<ellipse cx="300" cy="90" rx="6" ry="8" fill="#949494" />
<ellipse cx="142" cy="362" rx="9" ry="5" fill="#a3a3a3" />
<ellipse cx="296" cy="205" rx="8" ry="12" fill="#999999" />
</g>
</g>
<g filter="url(#Upet2)"><rect width="314" height="369" fill="#000"/>
<g filter="url(#Urough)">
<path d="M128.0,56.0 C134.0,55.3 141.7,57.0 146.0,60.0 C150.3,63.0 153.3,68.0 154.0,74.0 C154.7,80.0 152.7,89.3 150.0,96.0 C147.3,102.7 143.0,108.3 138.0,114.0 C133.0,119.7 126.3,126.0 120.0,130.0 C113.7,134.0 106.3,137.3 100.0,138.0 C93.7,138.7 86.7,137.0 82.0,134.0 C77.3,131.0 73.3,125.7 72.0,120.0 C70.7,114.3 71.0,106.7 74.0,100.0 C77.0,93.3 84.0,86.0 90.0,80.0 C96.0,74.0 103.7,68.0 110.0,64.0 C116.3,60.0 122.0,56.7 128.0,56.0Z" fill="#a8a8a8"/>
<g fill="#c7c7c7"><ellipse cx="127" cy="78" rx="15" ry="17"  /><ellipse cx="107" cy="100" rx="20" ry="20"  /></g>
<g fill="#e6e6e6"><ellipse cx="127" cy="78" rx="12" ry="14"  /><ellipse cx="107" cy="100" rx="17" ry="17"  /></g>
<g fill="#ffffff"><ellipse cx="126" cy="78" rx="5.5" ry="7.5"  /><ellipse cx="106" cy="100" rx="9.5" ry="10.5"  /></g>
<path d="M186.0,56.0 C190.7,52.7 198.0,56.0 204.0,58.0 C210.0,60.0 216.3,63.7 222.0,68.0 C227.7,72.3 234.0,78.0 238.0,84.0 C242.0,90.0 245.0,97.0 246.0,104.0 C247.0,111.0 246.3,120.3 244.0,126.0 C241.7,131.7 236.7,136.7 232.0,138.0 C227.3,139.3 221.7,137.0 216.0,134.0 C210.3,131.0 203.7,125.3 198.0,120.0 C192.3,114.7 185.7,109.0 182.0,102.0 C178.3,95.0 175.3,85.7 176.0,78.0 C176.7,70.3 181.3,59.3 186.0,56.0Z" fill="#a8a8a8"/>
<ellipse cx="212" cy="92" rx="31" ry="19" transform="rotate(42 212 92)" fill="#c7c7c7"/>
<ellipse cx="212" cy="92" rx="28" ry="16" transform="rotate(42 212 92)" fill="#e6e6e6"/>
<path d="M198.0,80.0 C199.2,78.3 202.7,77.3 205.0,78.0 C207.3,78.7 209.5,82.0 212.0,84.0 C214.5,86.0 217.5,87.7 220.0,90.0 C222.5,92.3 225.7,95.3 227.0,98.0 C228.3,100.7 229.2,104.3 228.0,106.0 C226.8,107.7 222.7,108.7 220.0,108.0 C217.3,107.3 214.7,104.0 212.0,102.0 C209.3,100.0 206.3,98.3 204.0,96.0 C201.7,93.7 199.0,90.7 198.0,88.0 C197.0,85.3 196.8,81.7 198.0,80.0Z" fill="#ffffff"/>
</g>
</g>
<g fill="none" stroke-linecap="round" filter="url(#Ub1)">
<path d="M134,-5 C130,14 124,26 112,36 C100,44 90,50 80,64 C70,80 62,96 58,112 C54,130 50,150 49,172 C48,200 50,230 50,256" stroke="#d2cbf4" stroke-width="3.2" opacity="0.9"/>
<path d="M202,-5 C204,10 210,22 222,34 C238,46 252,58 258,74 C264,96 268,112 272,130 C277,150 279,175 276,200 C273,225 268,245 268,266" stroke="#d2cbf4" stroke-width="3.2" opacity="0.9"/>
<path d="M66,290 C74,302 80,312 88,318 C104,322 122,326 140,331 C150,335 156,338 161,338 C170,334 182,328 200,324 C215,322 228,322 238,320 C246,308 252,296 258,284" stroke="#eeeef4" stroke-width="4.6"/>
<path d="M130,328 C145,333 155,339 161,339 C168,337 175,333 182,330" stroke="#f6f6f6" stroke-width="6"/>
<path d="M66,288 C72,300 78,310 86,318" stroke="#f4f4f4" stroke-width="6"/>
<path d="M258,284 C252,296 246,308 238,320" stroke="#f0f0f0" stroke-width="5"/>
<path d="M49,175 C48,205 50,235 51,256" stroke="#f4f4f4" stroke-width="5"/>
<path d="M277,150 C279,175 276,200 272,225" stroke="#eaeaf4" stroke-width="4.5"/>
</g>
<g filter="url(#Ub2)" fill="#f4f4f4">
<path d="M57,120 C55,140 44,156 25,166 C36,172 44,178 50,188 C52,170 56,150 57,120Z"/>
<path d="M28,268 C38,264 46,258 50,250 L54,258 C60,270 66,280 72,290 L68,296 C56,284 40,276 28,268Z"/>
<path d="M260,262 L270,262 L288,280 L262,294 Z"/>
<path d="M231,313 L243,317 L239,327 L229,325 Z"/>
<path d="M271,126 L280,126 L281,152 L272,152 Z"/>
</g>
<g filter="url(#Ub1)" opacity="0.7"><ellipse cx="76" cy="262" rx="6" ry="3" fill="#aaa" /><ellipse cx="86" cy="258" rx="4" ry="2" fill="#aaa" /><ellipse cx="230" cy="258" rx="4" ry="2" fill="#999" /></g>
</svg>
<rect x="451" y="181" width="59.5" height="544" rx="4" fill="#808080"/>
<rect x="459.5" y="189.5" width="42" height="525.5" fill="url(#cbg)"/>
<text x="22" y="39" font-size="53" font-weight="bold" text-anchor="middle">A</text>
<text x="571.5" y="169.5" font-size="44" font-weight="bold" text-anchor="middle">SUV</text>
<text x="523" y="232" font-size="42" font-weight="bold">2.6</text>
<text x="523" y="415" font-size="42" font-weight="bold">2.1</text>
<text x="523" y="556" font-size="42" font-weight="bold">1.6</text>
<text x="523" y="724" font-size="42" font-weight="bold">1.1</text>
<text transform="translate(688.5,39) scale(0.84,1)" font-size="53" font-weight="bold" text-anchor="middle">B</text>
<text x="1038" y="205" font-size="29" font-weight="bold" text-anchor="middle">Patlak Plot Fit</text>
<path d="M805.3,246.25 V554.5 M792.8,554.5 H1268.5 V567.0" fill="none" stroke="#000" stroke-width="3"/>
<path d="M792.8,451.8 H805.3" stroke="#000" stroke-width="3"/>
<path d="M792.8,349.0 H805.3" stroke="#000" stroke-width="3"/>
<path d="M792.8,246.2 H805.3" stroke="#000" stroke-width="3"/>
<path d="M805.3,554.5 V567.0" stroke="#000" stroke-width="3"/>
<path d="M921.1,554.5 V567.0" stroke="#000" stroke-width="3"/>
<path d="M1036.9,554.5 V567.0" stroke="#000" stroke-width="3"/>
<path d="M1152.7,554.5 V567.0" stroke="#000" stroke-width="3"/>
<text x="790" y="562.5" font-size="22" font-weight="bold" text-anchor="end">0</text>
<text x="790" y="459.8" font-size="22" font-weight="bold" text-anchor="end">1</text>
<text x="790" y="357.0" font-size="22" font-weight="bold" text-anchor="end">2</text>
<text x="790" y="254.2" font-size="22" font-weight="bold" text-anchor="end">3</text>
<text x="805.3" y="591" font-size="22" font-weight="bold" text-anchor="middle">0</text>
<text x="921.1" y="591" font-size="22" font-weight="bold" text-anchor="middle">25</text>
<text x="1036.9" y="591" font-size="22" font-weight="bold" text-anchor="middle">50</text>
<text x="1152.7" y="591" font-size="22" font-weight="bold" text-anchor="middle">75</text>
<text x="1268.5" y="591" font-size="22" font-weight="bold" text-anchor="middle">100</text>
<text x="1037" y="659" font-size="25" font-weight="bold" text-anchor="middle">SUM(Conc_plasma)/Conc_plasma</text>
<text transform="translate(736,400.6) rotate(-90)" font-size="25" font-weight="bold" text-anchor="middle">Conc_roi/Conc_plasma</text>
<line x1="806" y1="460" x2="1263.5" y2="289.7" stroke="#e8463a" stroke-width="1.4"/>
<line x1="806" y1="460" x2="1263.5" y2="294.6" stroke="#2f8a5e" stroke-width="1.4"/>
<circle cx="804.5" cy="453.1" r="4.4" fill="#fa2c0c"/><circle cx="810.5" cy="447.7" r="4.4" fill="#fa2c0c"/><circle cx="818.7" cy="454.8" r="4.4" fill="#fa2c0c"/><circle cx="822.5" cy="460.2" r="4.4" fill="#fa2c0c"/><circle cx="806.7" cy="464.0" r="4.4" fill="#fa2c0c"/><circle cx="812.2" cy="476.0" r="4.4" fill="#fa2c0c"/><circle cx="818.2" cy="472.7" r="4.4" fill="#fa2c0c"/><circle cx="813.8" cy="489.1" r="4.4" fill="#fa2c0c"/><circle cx="826.9" cy="448.8" r="4.4" fill="#fa2c0c"/><circle cx="830.7" cy="445.5" r="4.4" fill="#fa2c0c"/><circle cx="837.2" cy="454.2" r="4.4" fill="#fa2c0c"/><circle cx="841.6" cy="445.5" r="4.4" fill="#fa2c0c"/><circle cx="846.5" cy="440.6" r="4.4" fill="#fa2c0c"/><circle cx="852.5" cy="448.8" r="4.4" fill="#fa2c0c"/><circle cx="869.0" cy="426.8" r="4.4" fill="#fa2c0c"/><circle cx="879.6" cy="424.0" r="4.4" fill="#fa2c0c"/><circle cx="891.6" cy="428.3" r="4.4" fill="#fa2c0c"/><circle cx="906.0" cy="418.0" r="4.4" fill="#fa2c0c"/><circle cx="916.5" cy="413.7" r="4.4" fill="#fa2c0c"/><circle cx="928.0" cy="414.4" r="4.4" fill="#fa2c0c"/><circle cx="954.4" cy="392.8" r="4.4" fill="#fa2c0c"/><circle cx="967.4" cy="390.6" r="4.4" fill="#fa2c0c"/><circle cx="976.2" cy="385.5" r="4.4" fill="#fa2c0c"/><circle cx="1002.0" cy="381.0" r="4.4" fill="#fa2c0c"/><circle cx="1013.3" cy="377.2" r="4.4" fill="#fa2c0c"/><circle cx="1046.9" cy="358.4" r="4.4" fill="#fa2c0c"/><circle cx="1056.4" cy="362.1" r="4.4" fill="#fa2c0c"/><circle cx="1083.8" cy="355.9" r="4.4" fill="#fa2c0c"/><circle cx="1127.6" cy="340.7" r="4.4" fill="#fa2c0c"/><circle cx="1263.5" cy="313.4" r="4.4" fill="#fa2c0c"/>
<circle cx="809.4" cy="426.4" r="4.4" fill="#0f8a4a"/><circle cx="806.2" cy="441.7" r="4.4" fill="#0f8a4a"/><circle cx="811.6" cy="451.0" r="4.4" fill="#0f8a4a"/><circle cx="818.2" cy="461.8" r="4.4" fill="#0f8a4a"/><circle cx="821.4" cy="465.1" r="4.4" fill="#0f8a4a"/><circle cx="816.5" cy="467.3" r="4.4" fill="#0f8a4a"/><circle cx="818.7" cy="469.5" r="4.4" fill="#0f8a4a"/><circle cx="805.6" cy="470.6" r="4.4" fill="#0f8a4a"/><circle cx="808.3" cy="474.4" r="4.4" fill="#0f8a4a"/><circle cx="808.9" cy="485.8" r="4.4" fill="#0f8a4a"/><circle cx="806.2" cy="491.3" r="4.4" fill="#0f8a4a"/><circle cx="826.3" cy="452.0" r="4.4" fill="#0f8a4a"/><circle cx="832.9" cy="459.7" r="4.4" fill="#0f8a4a"/><circle cx="836.7" cy="446.6" r="4.4" fill="#0f8a4a"/><circle cx="830.7" cy="453.1" r="4.4" fill="#0f8a4a"/><circle cx="841.0" cy="458.6" r="4.4" fill="#0f8a4a"/><circle cx="847.0" cy="453.1" r="4.4" fill="#0f8a4a"/><circle cx="851.4" cy="443.9" r="4.4" fill="#0f8a4a"/><circle cx="859.2" cy="441.6" r="4.4" fill="#0f8a4a"/><circle cx="859.2" cy="429.6" r="4.4" fill="#0f8a4a"/><circle cx="869.0" cy="433.8" r="4.4" fill="#0f8a4a"/><circle cx="880.0" cy="426.6" r="4.4" fill="#0f8a4a"/><circle cx="891.6" cy="421.1" r="4.4" fill="#0f8a4a"/><circle cx="907.0" cy="421.0" r="4.4" fill="#0f8a4a"/><circle cx="916.5" cy="420.8" r="4.4" fill="#0f8a4a"/><circle cx="927.7" cy="411.2" r="4.4" fill="#0f8a4a"/><circle cx="954.4" cy="402.2" r="4.4" fill="#0f8a4a"/><circle cx="967.8" cy="396.4" r="4.4" fill="#0f8a4a"/><circle cx="976.2" cy="391.3" r="4.4" fill="#0f8a4a"/><circle cx="1002.0" cy="379.7" r="4.4" fill="#0f8a4a"/><circle cx="1013.3" cy="375.6" r="4.4" fill="#0f8a4a"/><circle cx="1047.2" cy="367.9" r="4.4" fill="#0f8a4a"/><circle cx="1056.6" cy="359.0" r="4.4" fill="#0f8a4a"/><circle cx="1060.1" cy="368.4" r="4.4" fill="#0f8a4a"/><circle cx="1083.8" cy="366.9" r="4.4" fill="#0f8a4a"/><circle cx="1127.4" cy="333.5" r="4.4" fill="#0f8a4a"/><circle cx="1203.8" cy="323.8" r="4.4" fill="#0f8a4a"/><circle cx="1263.5" cy="318.5" r="4.4" fill="#0f8a4a"/>
<line x1="1227" y1="425.7" x2="1261.5" y2="425.7" stroke="#0f8a4a" stroke-width="1.6"/><circle cx="1244.6" cy="425.7" r="4.4" fill="#0f8a4a"/>
<line x1="1227" y1="469.3" x2="1261.5" y2="469.3" stroke="#fa2c0c" stroke-width="1.6"/><circle cx="1244.6" cy="469.3" r="4.4" fill="#fa2c0c"/>
<text x="1279" y="434.3" font-size="25">Striatum Left</text>
<text x="1279" y="478.3" font-size="25">Striatum Right</text>
<text transform="translate(1434.8,39.5) scale(0.84,1.02)" font-size="53" font-weight="bold" text-anchor="middle">C</text>
<path d="M1621.2,274.7 V583.7 M1611.7,583.7 H1980" fill="none" stroke="#000" stroke-width="2.6"/>
<path d="M1611.7,480.7 H1621.2" stroke="#000" stroke-width="2.6"/>
<path d="M1611.7,377.7 H1621.2" stroke="#000" stroke-width="2.6"/>
<path d="M1611.7,274.7 H1621.2" stroke="#000" stroke-width="2.6"/>
<path d="M1695.3,583.7 V592" stroke="#000" stroke-width="2.6"/>
<path d="M1802.1,583.7 V592" stroke="#000" stroke-width="2.6"/>
<path d="M1909.1,583.7 V592" stroke="#000" stroke-width="2.6"/>
<text x="1609" y="592.2" font-size="22" font-weight="bold" text-anchor="end">0.5</text>
<text x="1609" y="489.2" font-size="22" font-weight="bold" text-anchor="end">1.0</text>
<text x="1609" y="386.2" font-size="22" font-weight="bold" text-anchor="end">1.5</text>
<text x="1609" y="283.2" font-size="22" font-weight="bold" text-anchor="end">2.0</text>
<text x="1695.3" y="616" font-size="23" font-weight="bold" text-anchor="middle">nTG</text>
<text x="1802.1" y="616" font-size="23" font-weight="bold" text-anchor="middle">G2019S</text>
<text x="1909.1" y="616" font-size="23" font-weight="bold" text-anchor="middle">R1441C</text>
<text transform="translate(1529.5,429.8) rotate(-90)" font-size="25" font-weight="bold" text-anchor="middle">Striatum Ki (1 x 10<tspan dy="-9" font-size="16">-2</tspan><tspan dy="9"> ml/cm</tspan><tspan dy="-9" font-size="16">3</tspan><tspan dy="9">/min)</tspan></text>
<path d="M1695.2,369 V464.1 M1676.7,369 H1713.7 M1676.7,464.1 H1713.7 M1660.2,416.7 H1730.2" fill="none" stroke="#000" stroke-width="2.6"/>
<path d="M1801.7,379.6 V457.5 M1783.2,379.6 H1820.2 M1783.2,457.5 H1820.2 M1766.7,418.5 H1836.7" fill="none" stroke="#000" stroke-width="2.6"/>
<path d="M1908.8,400.8 V449.7 M1890.3,400.8 H1927.3 M1890.3,449.7 H1927.3 M1873.8,424.6 H1943.8" fill="none" stroke="#000" stroke-width="2.6"/>
<circle cx="1695.2" cy="347.5" r="5.8" fill="#000"/><circle cx="1695.2" cy="371.7" r="5.8" fill="#000"/><circle cx="1695.2" cy="390.6" r="5.8" fill="#000"/><circle cx="1666.1" cy="396.0" r="5.8" fill="#000"/><circle cx="1724.8" cy="394.1" r="5.8" fill="#000"/><circle cx="1685.8" cy="414.8" r="5.8" fill="#000"/><circle cx="1724.8" cy="418.3" r="5.8" fill="#000"/><circle cx="1666.1" cy="426.9" r="5.8" fill="#000"/><circle cx="1705.2" cy="426.9" r="5.8" fill="#000"/><circle cx="1695.2" cy="480.8" r="5.8" fill="#000"/><circle cx="1695.2" cy="517.7" r="5.8" fill="#000"/>
<circle cx="1801.7" cy="345.4" r="5.8" fill="#a01458"/><circle cx="1801.7" cy="361.7" r="5.8" fill="#a01458"/><circle cx="1801.7" cy="408.5" r="5.8" fill="#a01458"/><circle cx="1772.5" cy="414.6" r="5.8" fill="#a01458"/><circle cx="1831.5" cy="420.4" r="5.8" fill="#a01458"/><circle cx="1801.7" cy="431.0" r="5.8" fill="#a01458"/><circle cx="1772.5" cy="439.2" r="5.8" fill="#a01458"/><circle cx="1831.5" cy="437.3" r="5.8" fill="#a01458"/><circle cx="1814.2" cy="457.9" r="5.8" fill="#a01458"/><circle cx="1789.2" cy="468.1" r="5.8" fill="#a01458"/>
<circle cx="1894.2" cy="385.8" r="5.8" fill="#0c2eff"/><circle cx="1923.4" cy="394.2" r="5.8" fill="#0c2eff"/><circle cx="1908.8" cy="398.2" r="5.8" fill="#0c2eff"/><circle cx="1879.2" cy="410.5" r="5.8" fill="#0c2eff"/><circle cx="1894.2" cy="412.6" r="5.8" fill="#0c2eff"/><circle cx="1938.0" cy="412.3" r="5.8" fill="#0c2eff"/><circle cx="1923.4" cy="418.9" r="5.8" fill="#0c2eff"/><circle cx="1908.8" cy="422.0" r="5.8" fill="#0c2eff"/><circle cx="1879.2" cy="426.9" r="5.8" fill="#0c2eff"/><circle cx="1938.0" cy="426.9" r="5.8" fill="#0c2eff"/><circle cx="1938.0" cy="439.5" r="5.8" fill="#0c2eff"/><circle cx="1908.8" cy="445.4" r="5.8" fill="#0c2eff"/><circle cx="1879.2" cy="458.0" r="5.8" fill="#0c2eff"/><circle cx="1938.0" cy="455.8" r="5.8" fill="#0c2eff"/><circle cx="1908.8" cy="470.3" r="5.8" fill="#0c2eff"/>
</svg></body></html>
